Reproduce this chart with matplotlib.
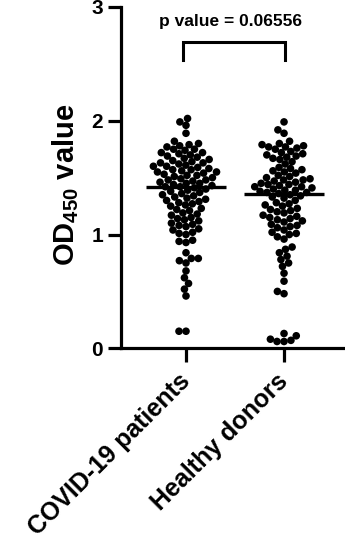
import numpy as np
import matplotlib
matplotlib.use("Agg")
import matplotlib.pyplot as plt

plt.rcParams['font.family'] = ['Liberation Sans', 'DejaVu Sans']
plt.rcParams['font.weight'] = 'bold'
plt.rcParams['mathtext.fontset'] = 'custom'
plt.rcParams['mathtext.rm'] = 'Liberation Sans:bold'
plt.rcParams['mathtext.bf'] = 'Liberation Sans:bold'
plt.rcParams['mathtext.default'] = 'bf'

# OD450 readings per group
groups = ["COVID-19 patients", "Healthy donors"]

covid = [
    2.02, 1.99, 1.96, 1.89,
    1.82, 1.80, 1.79, 1.78, 1.77, 1.75, 1.75,
    1.74, 1.72, 1.72, 1.71, 1.70, 1.69, 1.68, 1.67,
    1.66, 1.65, 1.64, 1.63, 1.63, 1.62, 1.61, 1.60, 1.60, 1.59,
    1.58, 1.57, 1.57, 1.56, 1.55, 1.55, 1.54, 1.53, 1.52, 1.52, 1.51, 1.50,
    1.49, 1.48, 1.48, 1.47, 1.46, 1.45, 1.45, 1.44, 1.43, 1.42, 1.42, 1.41,
    1.40, 1.39, 1.38, 1.37, 1.36, 1.35, 1.34, 1.33, 1.32, 1.31, 1.30, 1.29,
    1.28, 1.27, 1.26, 1.25, 1.23, 1.22, 1.21, 1.19, 1.18,
    1.17, 1.15, 1.14, 1.13,
    1.12, 1.10, 1.09, 1.08, 1.07, 1.05, 1.04, 1.02, 1.01, 1.00,
    0.95, 0.94, 0.93, 0.84, 0.79, 0.79, 0.77, 0.75, 0.68, 0.62, 0.57, 0.52,
    0.46, 0.15, 0.15,
]

healthy = [
    1.99, 1.92, 1.89,
    1.82, 1.80, 1.79, 1.78, 1.77, 1.77, 1.76,
    1.75, 1.73, 1.72, 1.71, 1.70, 1.69, 1.68, 1.67, 1.66,
    1.64, 1.62, 1.59, 1.58, 1.57, 1.56, 1.55,
    1.54, 1.52, 1.51, 1.50, 1.49, 1.48, 1.48, 1.47, 1.46, 1.45,
    1.44, 1.44, 1.43, 1.42, 1.42, 1.41,
    1.40, 1.39, 1.39, 1.38, 1.37, 1.37, 1.36, 1.35, 1.34, 1.33,
    1.32, 1.30, 1.28, 1.27, 1.26, 1.25, 1.23, 1.22, 1.21, 1.20,
    1.19, 1.17, 1.16, 1.15, 1.14, 1.13,
    1.12, 1.11, 1.09, 1.08, 1.07, 1.06, 1.04, 1.02, 1.01,
    1.00, 0.98, 0.96,
    0.89, 0.87, 0.84, 0.81, 0.78, 0.75, 0.72, 0.66, 0.59, 0.50, 0.48,
    0.13, 0.11, 0.08, 0.07, 0.06, 0.06,
]

p_text = "p value = 0.06556"
yticks = [0, 1, 2, 3]

W, H, DPI = 345, 545, 100
fig = plt.figure(figsize=(W / DPI, H / DPI), dpi=DPI)
ax_left, ax_bottom = 121 / W, 1 - 348.3 / H
ax_w, ax_h = 1 - ax_left, (1 - 7 / H) - ax_bottom
ax = fig.add_axes([ax_left, ax_bottom, ax_w, ax_h])

xlim = (-0.663, 1.622)
ylim = (0, 3)
ax.set_xlim(*xlim)
ax.set_ylim(*ylim)

ppu_x = ax_w * W / (xlim[1] - xlim[0])
ppu_y = ax_h * H / (ylim[1] - ylim[0])


def swarm_offsets(values, diam):
    """Horizontal pixel offsets so that dots of the given diameter do not overlap."""
    vals = np.asarray(values, float)
    order = np.argsort(vals, kind="stable")
    placed = []
    offs = np.zeros(len(vals))
    for i in order:
        y = vals[i] * ppu_y
        near = [(px, py) for px, py in placed if abs(py - y) < diam]
        cands = [0.0]
        for px, py in near:
            dx = np.sqrt(diam ** 2 - (py - y) ** 2)
            cands += [px - dx, px + dx]
        cands.sort(key=lambda c: (abs(c), c))
        chosen = cands[-1]
        for c in cands:
            if all((c - px) ** 2 + (y - py) ** 2 >= diam ** 2 - 1e-6 for px, py in near):
                chosen = c
                break
        placed.append((chosen, y))
        offs[i] = chosen
    return offs


dot_px = 7.6
for xi, vals in enumerate([covid, healthy]):
    offs = swarm_offsets(vals, 7.0)
    ax.scatter(xi + offs / ppu_x, vals, s=(dot_px * 72 / DPI) ** 2,
               color="black", edgecolors="none", zorder=3, clip_on=False)
    med = np.median(vals)
    ax.plot([xi - 0.41, xi + 0.41], [med, med], color="black", lw=2.4,
            solid_capstyle="butt", zorder=4)

# significance bracket
ax.plot([-0.03, -0.03, 1.01, 1.01], [2.53, 2.69, 2.69, 2.53], color="black",
        lw=2.2, solid_joinstyle="miter", clip_on=False)
ax.text(0.45, 2.87, p_text, ha="center", va="center", fontsize=12.5,
        fontweight="bold")

for side in ("top", "right"):
    ax.spines[side].set_visible(False)
for side in ("left", "bottom"):
    ax.spines[side].set_linewidth(2.3)
    ax.spines[side].set_capstyle("projecting")

ax.set_yticks(yticks)
ax.set_yticklabels([str(t) for t in yticks])
ax.tick_params(axis="y", length=9.5, width=2.3, pad=3.5, labelsize=15)
ax.set_xticks(range(len(groups)))
ax.set_xticklabels(groups, rotation=45, ha="right", va="center",
                   rotation_mode="anchor", fontsize=18)
ax.tick_params(axis="x", length=10, width=2.3, pad=11)

ax.set_ylabel(r"OD$_{450}$ value", fontsize=21, fontweight="bold")
ax.yaxis.set_label_coords(-0.18, 0.48)

fig.savefig("out.png", dpi=DPI)
